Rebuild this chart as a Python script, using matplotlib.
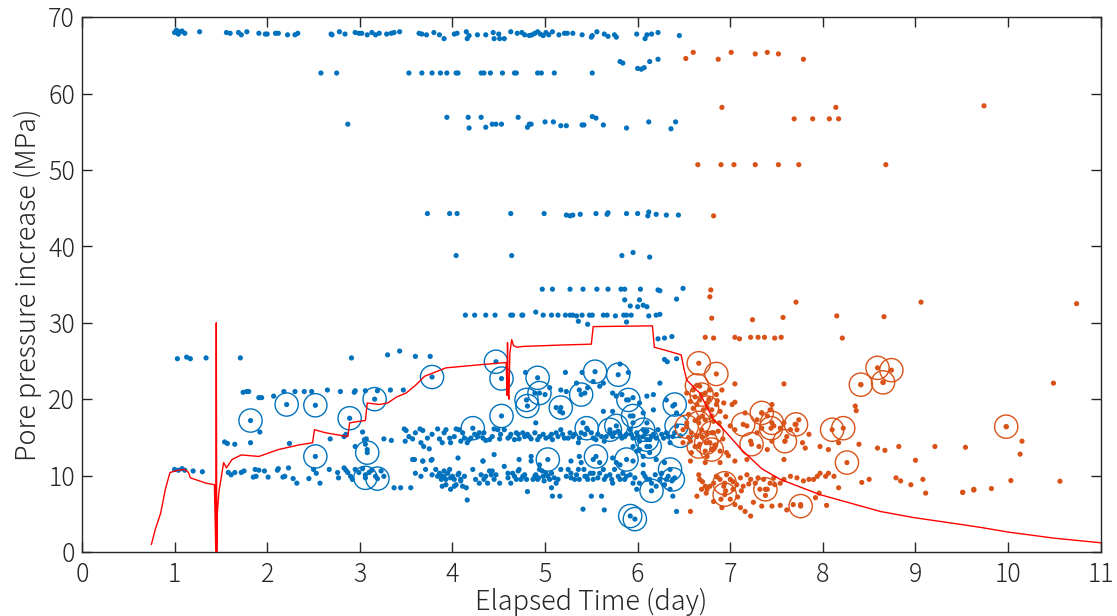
import matplotlib.pyplot as plt
import numpy as np

plt.rcParams['font.family'] = ['Noto Sans CJK JP', 'DejaVu Sans']

# pore pressure curve (red)
red_t = [0.75, 0.79, 0.85, 0.90, 0.95, 1.04, 1.11, 1.15, 1.17, 1.22, 1.34, 1.43, 1.445, 1.45, 1.455,
         1.46, 1.48, 1.53, 1.56, 1.62, 1.72, 1.91, 2.12, 2.34, 2.49, 2.51, 2.63, 2.87, 2.89, 2.99,
         3.06, 3.08, 3.21, 3.30, 3.40, 3.50, 3.60, 3.70, 3.93, 4.29, 4.58, 4.59, 4.595, 4.60, 4.61,
         4.62, 4.64, 4.66, 4.70, 4.76, 5.20, 5.50, 5.52, 6.16, 6.18, 6.30, 6.47, 6.50, 6.53, 6.67,
         6.82, 6.93, 7.12, 7.34, 7.54, 7.97, 8.62, 8.98, 9.49, 9.71, 10.0, 10.5, 11.0]
red_p = [1.0, 2.9, 5.1, 8.2, 10.4, 10.7, 10.8, 10.4, 9.7, 9.5, 9.0, 8.8, 0.0, 30.0, 0.0,
         5.0, 8.0, 11.7, 11.0, 12.1, 12.7, 12.5, 13.4, 14.0, 14.3, 16.0, 15.6, 15.1, 16.9, 17.1,
         17.2, 19.5, 19.3, 19.5, 20.3, 20.8, 21.8, 23.0, 24.1, 24.5, 24.8, 20.5, 27.4, 21.0, 20.0,
         26.0, 27.8, 27.0, 26.8, 26.9, 27.1, 27.2, 29.5, 29.6, 26.8, 26.4, 25.8, 24.0, 22.5, 20.8,
         17.3, 16.0, 13.4, 10.9, 9.5, 7.5, 5.3, 4.5, 3.6, 3.2, 2.6, 1.8, 1.2]

# events before injection stop (blue dots)
blue_t = [1.00, 1.02, 1.04, 1.06, 1.08, 1.11, 1.27, 1.56, 1.60, 1.69, 1.72, 1.78, 1.91, 1.98, 2.00,
          2.09, 2.12, 2.22, 2.30, 2.33, 2.69, 2.70, 2.78, 2.84, 2.95, 2.99, 3.02, 3.08, 3.13, 3.17,
          3.21, 3.29, 3.34, 3.37, 3.43, 3.64, 3.67, 3.72, 3.80, 3.86, 3.91, 4.02, 4.05, 4.15, 4.16,
          4.18, 4.27, 4.36, 4.44, 4.45, 4.50, 4.51, 4.56, 4.63, 4.70, 4.75, 4.78, 4.83, 4.86, 4.89,
          4.92, 4.95, 4.98, 5.01, 5.04, 5.08, 5.15, 5.21, 5.24, 5.30, 5.40, 5.50, 5.51, 5.56, 5.64,
          5.68, 5.75, 5.77, 5.99, 6.08, 6.10, 6.15, 6.22, 6.45,
          5.81, 5.84, 6.00, 6.04, 6.07, 6.13, 6.22,
          2.58, 2.75, 3.53, 3.67, 3.78, 3.87, 3.94, 4.04, 4.06, 4.31, 4.34, 4.41, 4.54, 4.67, 4.69,
          4.92, 4.96, 5.10, 5.51,
          2.87, 3.94, 4.17, 4.31, 4.18, 4.36, 4.43, 4.47, 4.53, 4.71, 4.81, 4.83, 4.85, 5.00, 5.09,
          5.17, 5.23, 5.40, 5.42, 5.51, 5.55, 5.63, 5.88, 6.12, 6.36, 6.41,
          3.73, 3.97, 4.05, 4.63, 4.99, 5.23, 5.27, 5.30, 5.38, 5.55, 5.67, 5.68, 5.88, 6.00, 6.11,
          6.12, 6.20, 6.31, 6.44,
          4.04, 4.64, 5.83, 5.95, 6.13,
          4.97, 5.08, 5.27, 5.41, 5.56, 5.68, 5.82, 5.86, 6.03, 6.22, 6.24, 5.86, 6.02, 5.92, 6.00,
          6.06, 6.10, 6.42, 6.49,
          4.14, 4.24, 4.36, 4.46, 4.63, 4.65, 4.75, 4.76, 4.90, 4.98, 5.07, 5.14, 5.22, 5.27, 5.30,
          5.34, 5.40, 5.36, 5.46, 5.48, 5.51, 5.63, 5.67, 5.76, 5.85, 5.88, 5.93, 5.88, 6.12, 6.20,
          6.24,
          6.22, 6.29, 6.37, 6.29, 6.32, 6.42,
          1.03, 1.13, 1.17, 1.34, 1.71, 2.91, 3.30, 3.43, 3.60, 3.76,
          1.74, 1.78, 1.80, 1.91, 1.94, 2.07, 2.18, 2.30, 2.40, 2.48, 2.65, 2.79, 2.94, 2.95, 3.06,
          3.19, 3.33, 3.47,
          4.79, 5.22, 5.40, 5.81, 5.90, 4.89, 5.00, 5.05, 5.17, 5.23, 5.12, 5.16, 5.19, 5.34, 5.37,
          5.43, 5.46, 5.52, 5.59, 5.63, 5.73, 5.77, 5.83, 5.88, 5.95, 6.02, 6.10, 6.17, 6.24, 5.63,
          5.73, 5.92, 6.06, 6.17, 6.31, 6.38, 6.42, 5.95, 6.10,
          1.54, 1.57, 1.65, 1.82, 1.92, 2.24, 2.68, 2.83, 2.85, 2.95, 3.03, 3.05, 3.07, 3.06, 3.08,
          3.26, 3.34, 3.48, 3.50, 3.49, 3.57, 3.65, 3.68, 3.66, 3.69, 3.75, 3.84, 3.86, 3.89, 3.93,
          3.97, 3.98, 4.04, 4.07, 4.09, 4.13, 4.16, 4.18, 4.24, 4.29, 4.33, 4.36, 4.40, 4.45, 4.49,
          4.51, 4.56, 4.60, 4.63, 4.67, 4.69, 4.72, 4.78, 4.81, 4.85, 4.89, 4.90, 4.94, 5.01, 5.07,
          5.08, 5.14, 5.17, 5.21, 5.27, 5.32, 5.36, 5.39, 5.41, 5.46, 5.52, 5.55, 5.61, 5.64, 5.70,
          5.73, 5.79, 5.83, 5.88, 5.92, 5.95, 5.99, 6.02, 6.06, 6.10, 6.13, 6.17, 6.22, 6.28, 6.31,
          6.35, 6.38, 5.95, 6.02, 6.10, 6.13, 6.06, 5.99,
          3.53, 3.60, 3.73, 3.78, 3.91, 4.02, 4.11, 4.20, 4.27, 4.34, 4.43, 4.52, 4.62, 4.71, 4.76,
          4.83, 4.92, 4.98, 5.05, 5.12, 5.19, 5.25, 5.30, 5.37, 5.43, 5.50, 5.57, 5.66, 5.75, 5.81,
          5.86, 5.93, 6.01, 6.08, 6.15, 6.20, 6.26, 6.33, 6.40,
          3.59, 3.68, 3.78, 4.06, 4.33, 4.45, 4.72, 4.85, 4.94, 5.28, 5.37, 5.52, 5.59, 5.73, 5.81,
          5.95, 6.06, 6.20, 6.29,
          1.00, 1.04, 1.08, 1.11, 1.20, 1.30, 1.58, 1.61, 1.65, 1.72, 1.75, 1.87, 1.91, 1.97, 2.11,
          2.12, 2.23, 1.85, 1.88, 2.01, 2.17, 2.19, 2.28, 2.32, 2.45, 2.50, 2.53, 2.57, 2.67, 2.76,
          2.77, 2.83, 2.85, 2.87, 2.90, 2.92, 2.95, 2.99, 3.03, 3.06, 3.10, 3.13, 3.17,
          3.23, 3.26, 3.37, 3.44, 3.55, 3.57, 3.60, 3.66, 3.68, 3.71, 3.77, 3.78, 3.82, 3.86, 3.88,
          3.91, 3.93, 3.97, 4.00, 4.02, 4.07, 4.09, 4.13, 4.15, 4.16, 4.22, 4.25, 4.29, 4.33, 4.36,
          4.40, 4.45, 4.47, 4.51, 4.56, 4.60, 4.65, 4.69, 4.72, 4.76, 4.80, 4.81, 4.85, 4.89, 4.92,
          4.94, 4.98, 5.01, 5.05, 5.07, 5.08, 5.14, 5.16, 5.17, 5.23, 5.28, 5.32, 5.36, 5.39, 5.43,
          5.46, 5.50, 5.52, 5.57, 5.61, 5.63, 5.66, 5.72, 5.75, 5.77, 5.81, 5.84, 5.88, 5.95, 5.99,
          6.06, 6.10, 6.15, 6.20, 6.26, 6.31, 6.35, 6.38, 6.42, 5.41, 5.64,
          3.84, 3.87, 3.91, 3.93, 3.95, 3.98, 4.02, 4.06, 4.09, 4.11, 3.89, 3.98, 4.04, 4.31, 4.34,
          4.38, 4.42, 4.43, 4.60, 4.63, 4.67, 4.71, 4.74, 4.78, 4.87, 4.90, 4.93, 4.97, 4.99, 5.03,
          5.07, 5.10, 5.12, 5.25, 5.28, 5.34, 5.37, 5.42, 5.45, 5.49, 5.52, 5.59, 5.64, 5.70, 5.73,
          5.79, 5.86, 5.92, 5.97, 6.02, 6.08, 6.13, 6.19, 6.24, 6.29, 6.33, 6.37, 6.40]
blue_p = [68.0, 68.3, 67.8, 68.1, 68.2, 67.9, 68.1, 68.0, 67.9, 68.0, 67.7, 68.1, 67.9, 67.8, 67.8,
          67.9, 67.9, 67.7, 67.7, 67.9, 67.8, 67.7, 68.1, 67.8, 68.0, 67.9, 67.9, 67.7, 68.0, 67.7,
          67.9, 67.8, 67.9, 68.0, 68.1, 67.9, 67.8, 67.7, 68.0, 67.7, 67.2, 67.8, 67.9, 68.1, 67.2,
          67.6, 67.7, 67.7, 68.0, 67.2, 67.8, 67.2, 67.2, 68.1, 67.9, 68.0, 67.7, 67.6, 67.7, 67.9,
          68.1, 67.8, 67.6, 68.0, 67.7, 68.1, 67.7, 67.9, 67.9, 67.9, 67.7, 67.4, 67.6, 68.1, 67.8,
          67.5, 67.7, 67.4, 67.8, 67.2, 67.7, 67.8, 68.0, 67.6,
          64.2, 64.0, 63.3, 63.2, 63.4, 64.2, 64.5,
          62.7, 62.7, 62.7, 62.7, 62.7, 62.7, 62.7, 62.7, 62.7, 62.7, 62.7, 62.7, 62.7, 62.7, 62.7,
          62.7, 62.7, 62.7, 62.7,
          56.0, 56.9, 56.9, 56.9, 55.5, 55.6, 56.0, 56.0, 56.0, 56.9, 55.6, 56.0, 56.0, 56.3, 56.3,
          55.8, 55.8, 55.9, 55.9, 57.0, 56.8, 55.9, 55.5, 56.3, 55.4, 56.3,
          44.3, 44.3, 44.3, 44.3, 44.3, 44.1, 44.0, 44.1, 44.2, 44.3, 44.2, 44.4, 44.3, 44.3, 44.0,
          44.5, 44.2, 44.1, 44.1,
          38.8, 38.8, 38.8, 39.2, 38.6,
          34.4, 34.4, 34.4, 34.4, 34.4, 34.4, 34.4, 34.4, 34.4, 34.3, 34.2, 33.0, 33.0, 32.2, 32.1,
          32.3, 32.1, 33.1, 34.5,
          31.0, 31.0, 31.0, 31.0, 31.0, 31.0, 31.0, 31.0, 31.4, 31.0, 31.0, 31.0, 31.0, 31.0, 31.0,
          30.9, 31.0, 30.2, 29.8, 31.0, 31.0, 31.0, 31.0, 30.9, 31.0, 31.0, 31.0, 30.1, 30.9, 31.0,
          31.1,
          27.9, 28.0, 28.2, 25.2, 24.9, 25.3,
          25.3, 25.5, 25.3, 25.4, 25.4, 25.4, 25.8, 26.3, 25.6, 25.6,
          20.9, 21.0, 21.0, 20.2, 20.2, 20.4, 21.0, 21.0, 21.0, 21.0, 21.2, 21.0, 20.9, 21.1, 21.1,
          21.1, 21.2, 21.2,
          23.5, 23.5, 23.5, 24.6, 23.5, 20.8, 20.6, 21.5, 21.2, 21.0, 18.9, 18.4, 18.2, 22.1, 21.2,
          20.8, 21.5, 22.3, 21.7, 22.1, 20.8, 20.4, 20.6, 19.9, 20.2, 19.5, 20.4, 20.6, 22.1, 18.4,
          18.4, 17.8, 18.2, 18.6, 19.9, 19.1, 18.2, 16.9, 16.9,
          14.4, 14.2, 14.1, 14.3, 15.7, 14.2, 14.8, 15.1, 15.4, 13.8, 15.7, 14.7, 14.8, 14.1, 13.4,
          14.8, 14.6, 16.1, 15.9, 14.5, 14.8, 16.1, 15.9, 14.3, 13.8, 13.5, 16.1, 14.8, 14.3, 16.0,
          14.9, 14.3, 16.1, 16.0, 14.5, 14.9, 14.3, 14.7, 15.4, 15.6, 14.9, 14.6, 14.7, 16.1, 16.0,
          14.8, 16.0, 14.9, 15.4, 14.7, 15.6, 14.8, 15.1, 15.4, 14.8, 15.6, 16.9, 15.1, 14.9, 15.4,
          14.7, 15.1, 16.0, 14.9, 15.6, 15.4, 14.3, 15.6, 16.9, 16.0, 14.9, 14.7, 15.1, 14.5, 15.6,
          15.1, 15.8, 14.9, 15.4, 16.0, 14.9, 15.6, 14.5, 15.1, 15.8, 14.7, 15.4, 16.0, 14.9, 15.6,
          14.3, 15.1, 13.8, 13.4, 13.8, 13.0, 12.5, 13.2,
          15.1, 15.6, 14.9, 15.4, 15.6, 15.1, 15.6, 14.9, 15.1, 15.6, 15.1, 15.4, 15.1, 15.4, 15.6,
          15.1, 14.7, 15.4, 15.1, 15.6, 15.4, 14.9, 15.1, 14.9, 15.4, 15.6, 15.4, 15.1, 15.6, 15.4,
          15.1, 15.4, 15.1, 15.6, 15.1, 14.9, 15.4, 15.1, 15.6,
          12.1, 11.9, 12.1, 12.3, 11.9, 12.75, 12.1, 12.5, 11.4, 11.9, 12.5, 12.1, 11.7, 12.3, 11.4,
          11.9, 11.4, 12.1, 11.7,
          10.8, 10.7, 10.9, 10.7, 10.6, 10.5, 10.4, 10.1, 10.4, 10.4, 10.6, 10.8, 10.7, 10.6, 10.7,
          10.9, 11.0, 9.8, 9.9, 9.8, 9.8, 9.9, 9.6, 9.0, 9.6, 10.8, 10.3, 9.0, 10.8, 10.4,
          9.7, 11.0, 10.7, 10.4, 9.9, 9.5, 10.8, 10.4, 10.9, 10.1, 10.4, 10.7, 9.9,
          10.6, 9.9, 8.4, 8.4, 8.4, 12.1, 10.3, 9.9, 11.9, 10.8, 12.0, 10.1, 10.8, 10.3, 9.5,
          9.9, 8.8, 10.8, 9.9, 8.6, 10.3, 9.5, 9.9, 8.4, 6.8, 10.8, 9.5, 9.0, 11.9, 9.9,
          10.6, 9.5, 10.1, 9.0, 11.2, 9.7, 10.3, 9.5, 10.8, 9.9, 9.5, 7.9, 11.9, 9.9, 9.5,
          10.8, 9.9, 10.3, 9.5, 8.4, 7.3, 9.5, 7.3, 10.8, 9.9, 10.3, 9.5, 10.8, 11.7, 9.9,
          9.5, 7.3, 10.3, 9.7, 7.3, 10.8, 9.9, 9.5, 10.8, 11.7, 9.5, 10.3, 9.9, 9.0, 8.2,
          10.3, 9.5, 9.0, 8.6, 10.3, 9.5, 8.2, 7.3, 5.3, 5.6, 5.5,
          9.9, 10.1, 10.6, 9.5, 10.3, 9.7, 9.5, 10.1, 9.3, 8.6, 8.6, 8.2, 8.8, 10.1, 9.5,
          9.0, 10.1, 10.6, 10.3, 9.0, 9.9, 10.6, 9.5, 10.1, 9.5, 10.1, 9.7, 10.6, 9.3, 9.9,
          10.3, 9.7, 9.0, 10.8, 9.7, 10.1, 9.5, 10.8, 9.9, 10.3, 9.5, 10.3, 9.5, 10.1, 9.0,
          9.9, 9.5, 10.1, 9.7, 9.0, 9.9, 9.5, 10.1, 9.5, 8.8, 9.9, 9.3, 9.7]

blue_ct = [1.82, 2.21, 2.52, 2.52, 2.89, 3.08, 3.16, 3.06, 3.19, 3.78, 4.22, 4.47, 4.53, 4.53, 4.80,
           4.81, 4.92, 4.94, 5.03, 5.17, 5.39, 5.45, 5.54, 5.55, 5.70, 5.77, 5.79, 5.88, 5.90, 5.95,
           5.92, 5.97, 6.06, 6.10, 6.13, 6.15, 6.35, 6.40, 6.42, 6.38, 6.46]
blue_cp = [17.2, 19.3, 19.2, 12.5, 17.5, 13.0, 20.0, 9.7, 9.6, 22.9, 16.2, 24.9, 22.7, 17.8, 19.9,
           19.1, 22.8, 20.8, 12.1, 18.9, 20.6, 16.2, 23.6, 12.5, 16.0, 16.5, 23.2, 12.1, 19.9, 17.8,
           4.7, 4.3, 16.0, 14.7, 13.8, 8.0, 10.8, 19.3, 16.5, 9.5, 15.2]

# events after injection stop (orange dots)
orng_t = [6.52, 6.60, 6.87, 7.01, 7.27, 7.40, 7.52, 7.79, 6.91, 8.14, 9.74, 7.69, 7.89, 8.07, 8.17,
          6.65, 6.90, 7.04, 7.27, 7.52, 7.74, 8.68, 6.82, 6.79, 6.78, 6.80, 7.24, 7.57, 7.71, 8.15,
          8.66, 9.06, 6.73, 6.82, 7.05, 7.10, 7.22, 7.30, 7.37, 7.48, 7.55, 8.21, 10.74, 10.49, 9.98,
          10.15, 10.13, 9.54, 10.03, 10.56, 9.82, 9.63, 9.51,
          7.05, 7.58, 6.53, 6.60, 6.67, 6.73, 6.78, 6.85, 6.91, 6.57, 6.64, 6.67, 6.71, 6.75, 6.80,
          6.85, 6.89, 6.93, 7.02, 7.05, 6.55, 6.66, 6.73, 6.80, 6.82, 7.00, 7.05, 7.16, 7.18, 7.29,
          7.34, 7.40, 7.43, 7.45, 7.47, 7.34, 7.29, 7.54, 7.58, 7.65, 7.70, 7.72, 7.74, 7.85, 6.49,
          6.53, 6.58, 6.64, 6.69, 6.75, 6.82, 6.87, 6.49, 6.57, 6.62, 6.67, 6.73, 6.78, 6.82, 6.89,
          6.96, 7.22, 7.31, 7.40, 7.45, 7.59, 7.61, 7.78, 7.81, 7.97, 8.06, 8.17, 8.39, 8.59, 8.67,
          8.82, 9.00, 9.21, 6.57, 6.73, 6.89, 7.05, 7.18, 7.58, 8.35, 8.36, 8.41, 8.65,
          6.60, 6.70, 6.77, 6.62, 6.88, 6.95, 6.70, 6.84, 6.58, 6.75, 6.92, 6.55, 6.98, 6.62, 6.86,
          6.66, 6.67, 6.73, 6.69, 6.75, 6.82, 6.85, 6.89, 6.93, 6.96, 7.00, 7.03, 7.07, 7.11, 7.14,
          7.18, 7.22, 7.27, 7.32, 7.36, 7.40, 7.43, 7.47, 7.54, 7.58, 7.65, 7.72, 7.79, 7.85, 7.90,
          7.94, 7.97, 8.03, 8.06, 8.12, 8.17, 8.42, 8.50, 8.79, 8.84, 8.95, 9.08, 9.11, 9.51, 9.63,
          6.70, 6.78, 6.86, 6.95, 7.03, 7.12, 7.20, 7.30, 7.38, 7.48, 6.74, 6.90, 7.08, 7.25,
          6.64, 6.82, 6.91, 7.00, 7.05, 7.11, 7.16, 7.22, 7.34, 7.45, 7.54, 7.61, 7.68, 7.76, 7.92,
          7.96, 8.04, 6.57]
orng_p = [64.6, 65.4, 64.5, 65.4, 65.2, 65.4, 65.2, 64.5, 58.2, 58.2, 58.4, 56.7, 56.7, 56.7, 56.7,
          50.7, 50.7, 50.7, 50.7, 50.7, 50.7, 50.7, 44.0, 34.3, 33.4, 30.6, 30.4, 30.7, 32.7, 30.9,
          30.8, 32.7, 28.1, 28.0, 28.1, 27.9, 28.1, 28.1, 28.1, 28.0, 28.1, 28.0, 32.5, 22.1, 16.4,
          14.5, 12.8, 13.7, 9.35, 9.26, 8.3, 8.1, 7.8,
          22.0, 22.0, 20.8, 21.2, 21.7, 20.8, 21.2, 20.6, 21.2, 19.7, 19.3, 19.9, 18.6, 19.5, 18.6,
          19.3, 18.4, 19.5, 19.3, 19.6, 18.0, 17.5, 17.3, 17.8, 17.1, 16.5, 16.0, 18.2, 16.5, 17.3,
          18.2, 17.8, 18.6, 19.3, 16.5, 16.2, 15.6, 16.2, 16.9, 16.0, 16.7, 16.0, 17.3, 15.4, 16.0,
          16.9, 15.6, 15.1, 16.0, 15.4, 15.6, 15.8, 14.3, 14.5, 13.8, 14.1, 13.2, 14.3, 13.6, 13.2,
          13.0, 14.5, 13.8, 13.4, 14.5, 14.5, 15.1, 14.3, 13.6, 13.8, 13.4, 14.3, 14.1, 13.6, 13.3,
          13.8, 12.0, 13.8, 11.9, 11.7, 11.7, 11.9, 12.1, 12.1, 19.1, 18.5, 21.9, 22.2,
          18.8, 17.8, 20.0, 20.3, 16.9, 17.7, 15.0, 14.0, 13.0, 12.5, 14.8, 15.0, 12.6, 17.2, 19.8,
          10.1, 9.5, 8.6, 8.2, 8.2, 9.0, 9.9, 9.5, 8.6, 10.1, 9.5, 8.2, 8.8, 9.7, 8.6,
          10.1, 9.5, 9.0, 8.2, 9.5, 8.2, 9.0, 9.7, 9.0, 9.5, 9.9, 9.7, 9.3, 9.5, 9.5,
          9.9, 10.3, 9.9, 10.3, 9.9, 8.4, 9.1, 9.5, 9.7, 9.3, 8.8, 9.5, 7.7, 7.8, 8.2,
          9.2, 8.6, 9.8, 8.0, 9.2, 8.0, 8.9, 9.7, 7.4, 8.8, 7.7, 6.9, 7.2, 6.5,
          7.3, 6.6, 5.8, 6.9, 6.2, 5.8, 5.3, 4.7, 6.0, 6.0, 6.1, 5.5, 6.2, 6.2, 7.1,
          7.7, 6.1, 5.3]

orng_ct = [6.66, 6.85, 6.64, 6.69, 6.75, 6.53, 6.66, 6.80, 6.66, 6.80, 6.74, 7.14, 7.34, 7.45, 7.44,
           7.23, 7.59, 7.71, 8.10, 8.22, 8.26, 7.38, 6.94, 6.94, 7.76, 8.41, 8.59, 8.65, 8.74, 9.98]
orng_cp = [24.7, 23.3, 21.8, 20.6, 18.9, 16.4, 16.9, 15.6, 13.8, 13.4, 14.3, 16.7, 18.2, 16.9, 16.2,
           14.1, 14.5, 16.7, 16.0, 16.2, 11.7, 8.2, 7.5, 9.0, 6.0, 21.9, 24.1, 22.2, 23.8, 16.4]

xticks = np.arange(0, 12)
yticks = np.arange(0, 80, 10)

blue = '#0072BD'
orange = '#D95319'
ink = '#262626'

fig = plt.figure(figsize=(11.17, 6.16), dpi=100)
ax = fig.add_axes([0.0734, 0.104, 0.912, 0.868])

ax.scatter(blue_t, blue_p, s=14, color=blue, edgecolors='none', zorder=2)
ax.scatter(blue_ct, blue_cp, s=14, color=blue, edgecolors='none', zorder=2)
ax.scatter(blue_ct, blue_cp, s=280, facecolors='none', edgecolors=blue, linewidths=1.0, zorder=2)
ax.scatter(orng_t, orng_p, s=14, color=orange, edgecolors='none', zorder=2)
ax.scatter(orng_ct, orng_cp, s=14, color=orange, edgecolors='none', zorder=2)
ax.scatter(orng_ct, orng_cp, s=280, facecolors='none', edgecolors=orange, linewidths=1.0, zorder=2)
ax.plot(red_t, red_p, color='red', lw=1.0, zorder=3)

ax.set_xlim(0, 11)
ax.set_ylim(0, 70)
ax.set_xticks(xticks)
ax.set_yticks(yticks)
ax.tick_params(direction='in', length=7, width=1, top=True, right=True, labelsize=18,
               colors=ink)
ax.tick_params(axis='x', pad=7)
ax.tick_params(axis='y', pad=5)
for lab in ax.get_xticklabels() + ax.get_yticklabels():
    lab.set_fontweight('light')
for sp in ax.spines.values():
    sp.set_color(ink)
    sp.set_linewidth(1.0)
ax.set_xlabel('Elapsed Time (day)', fontsize=19.5, color=ink, labelpad=0, fontweight='light')
ax.set_ylabel('Pore pressure increase (MPa)', fontsize=19.5, color=ink, labelpad=4,
              fontweight='light')

plt.savefig('out.png', dpi=100)
